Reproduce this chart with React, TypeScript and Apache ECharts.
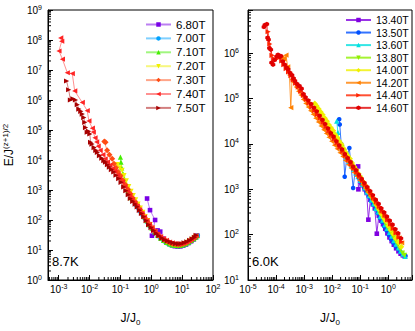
import React, { useEffect, useRef } from 'react';
import * as echarts from 'echarts';

const FONT = '"Liberation Sans", Arial, Helvetica, sans-serif';

// ---------- axis ranges ----------
const leftXRange = [4.5e-4, 100];
const leftYRange = [1, 1e9];
const rightXRange = [1e-5, 7];
const rightYRange = [10, 9e6];

// ---------- left panel (8.7K) ----------
const leftNames = ['6.80T', '7.00T', '7.10T', '7.20T', '7.30T', '7.40T', '7.50T'];
const leftColors = ['#7800e6', '#00a2ff', '#44ee00', '#f0f000', '#ff4c14', '#ff2424', '#a80000'];
const leftSymbols = ['rect', 'circle', 'triangle', 'triangle', 'diamond', 'triangle', 'triangle'];
const leftRotate = [0, 0, 0, 180, 0, 90, -90];

const l680 = [[0.73, 520], [0.91, 213], [1.33, 100], [1.05, 30], [1.6, 45], [1.95, 41], [2.4, 24], [3.0, 19], [3.8, 16], [4.7, 14.3], [5.8, 13.4], [7.2, 13.1], [8.8, 13.2], [10.8, 14], [13.2, 15.2], [16, 17], [19.5, 19.5], [23.5, 22.5], [28, 26.5], [31, 30]];
const l700 = [[0.3, 330], [0.36, 262], [0.43, 196], [0.52, 146], [0.62, 110], [0.75, 82], [0.9, 62], [1.1, 48], [1.35, 37], [1.65, 29], [2.0, 24], [2.5, 20], [3.1, 17], [3.9, 15.3], [4.8, 14.3], [6, 13.8], [7.4, 13.6], [9, 13.8], [11, 14.5], [13.5, 15.7], [16.5, 17.6], [20, 20.2], [24, 23.4], [28, 27], [32, 30.5]];
const l710 = [[0.1, 1.25e4], [0.104, 8.5e3], [0.11, 5.5e3], [0.12, 3.5e3], [0.135, 2.3e3], [0.155, 1.5e3], [0.18, 950], [0.21, 560], [0.25, 520], [0.3, 460], [0.35, 330], [0.42, 245], [0.5, 178], [0.6, 130], [0.72, 95], [0.87, 70], [1.05, 53], [1.3, 40], [1.6, 31], [2.0, 25], [2.5, 21], [3.1, 18], [3.9, 16], [4.8, 14.8], [6, 14.2], [7.4, 14.0], [9, 14.2], [11, 15], [13.5, 16.3], [16.5, 18.3], [20, 20.8], [24, 23.8], [28, 27.5], [31, 30]];
const l720 = [[8.0e-2, 7.0e3], [0.095, 5.5e3], [0.113, 4.5e3], [0.13, 3.0e3], [0.155, 2.0e3], [0.186, 1.3e3], [0.22, 900], [0.26, 650], [0.31, 470], [0.37, 340], [0.44, 250], [0.53, 180], [0.63, 130], [0.76, 95], [0.92, 70], [1.1, 53], [1.35, 40], [1.65, 31], [2.0, 25.5], [2.5, 21.5], [3.1, 18.5], [3.9, 16.5], [4.8, 15.3], [6, 14.7], [7.4, 14.5], [9, 14.7], [11, 15.5], [13.5, 16.8], [16.5, 18.8], [20, 21.3], [24, 24.3], [28, 28]];
const l730 = [[3.3e-2, 3.9e4], [3.0e-2, 4.1e4], [3.7e-2, 2.1e4], [4.4e-2, 1.5e4], [5.4e-2, 1.1e4], [6.2e-2, 7.5e3], [7.2e-2, 5.5e3], [8.5e-2, 4.0e3], [0.1, 3.0e3], [0.12, 2.1e3], [0.145, 1.5e3], [0.175, 1.05e3], [0.21, 750], [0.25, 540], [0.3, 400], [0.36, 300], [0.43, 225], [0.52, 165], [0.62, 120], [0.75, 90], [0.9, 68], [1.1, 52], [1.35, 40], [1.65, 32], [2.0, 27], [2.5, 23], [3.1, 20], [3.9, 17.8], [4.8, 16.3], [6, 15.4], [7.4, 15.1], [9, 15.3], [11, 16.2], [13.5, 17.5], [16.5, 19.5], [20, 22], [24, 25], [28, 29]];
const l740 = [[1.16e-3, 1.17e8], [1.25e-3, 9.1e7], [1.02e-3, 4.3e7], [1.32e-3, 2.3e7], [1.9e-3, 8.1e6], [2.75e-3, 7.6e6], [3.3e-3, 2.0e6], [5.8e-3, 8.3e5], [8.4e-3, 4.4e5], [9.5e-3, 2.0e5], [1.23e-2, 1.15e5], [1.32e-2, 8.5e4], [1.5e-2, 5.5e4], [1.7e-2, 4.0e4], [1.9e-2, 2.9e4], [2.2e-2, 2.1e4], [2.7e-2, 1.5e4], [3.2e-2, 1.1e4], [3.8e-2, 8.5e3], [4.6e-2, 6.8e3], [5.5e-2, 5.2e3], [6.6e-2, 4.2e3], [8e-2, 3.1e3], [9.5e-2, 2.4e3], [0.115, 1.8e3], [0.14, 1.3e3], [0.17, 900], [0.2, 650], [0.24, 480], [0.29, 370], [0.35, 290], [0.42, 220], [0.5, 165], [0.6, 125], [0.72, 95], [0.87, 72], [1.05, 56], [1.3, 43], [1.6, 34], [2.0, 28], [2.5, 24], [3.1, 21], [3.9, 18.5], [4.8, 17.2], [6, 16.2], [7.4, 15.8], [9, 16], [11, 17], [13.5, 18.3], [16.5, 20.3], [20, 22.8], [24, 26], [28, 30]];
const l750 = [[1.8e-3, 4.3e6], [2.1e-3, 2.2e6], [2.4e-3, 1.0e6], [2.9e-3, 1.1e6], [3.5e-3, 1.0e6], [4.0e-3, 7.0e5], [4.5e-3, 5.0e5], [5.2e-3, 4.2e5], [5.8e-3, 3.4e5], [6.5e-3, 2.6e5], [7.0e-3, 1.8e5], [7.4e-3, 1.2e5], [8.4e-3, 8.4e4], [9.3e-3, 9.0e4], [1.02e-2, 7.4e4], [1.08e-2, 3.9e4], [1.2e-2, 3.4e4], [1.4e-2, 2.6e4], [1.6e-2, 2.1e4], [1.8e-2, 1.8e4], [2.1e-2, 1.4e4], [2.5e-2, 1.15e4], [2.9e-2, 9.5e3], [3.3e-2, 8.5e3], [3.8e-2, 7.0e3], [4.4e-2, 5.8e3], [5.1e-2, 4.8e3], [6.1e-2, 4.0e3], [7.2e-2, 3.1e3], [8.8e-2, 2.4e3], [0.105, 1.8e3], [0.128, 1.27e3], [0.15, 950], [0.18, 700], [0.21, 520], [0.25, 420], [0.3, 340], [0.35, 275], [0.41, 210], [0.48, 165], [0.57, 129], [0.68, 95], [0.82, 70], [0.98, 56], [1.19, 45], [1.45, 36], [1.75, 30], [2.2, 25], [2.7, 22], [3.3, 20], [4.1, 18.5], [5.0, 17.3], [6.2, 16.4], [7.6, 16], [9.2, 16.3], [11.5, 17.3], [14.2, 18.8], [17.5, 21], [21, 23.5], [25, 26.5], [28.3, 31]];
const leftData = [l680, l700, l710, l720, l730, l740, l750];

// ---------- right panel (6.0K) ----------
const rightNames = ['13.40T', '13.50T', '13.60T', '13.80T', '14.00T', '14.20T', '14.40T', '14.60T'];
const rightColors = ['#8000e0', '#0050ff', '#00e0e0', '#90f000', '#f0f000', '#ff8000', '#ff2400', '#e00000'];
const rightSymbols = ['rect', 'circle', 'triangle', 'triangle', 'diamond', 'triangle', 'triangle', 'path://M0,-1L0.866,-0.5L0.866,0.5L0,1L-0.866,0.5L-0.866,-0.5Z'];
const rightRotate = [0, 0, 0, 180, 0, 90, -90, 0];

const r1340 = [[8.4e-2, 3.2e3], [8.6e-2, 1.0e3], [0.1, 1.5e3], [0.12, 1.23e3], [0.145, 1.0e3], [0.17, 830], [0.195, 214], [0.23, 590], [0.28, 468], [0.33, 380], [0.39, 105], [0.46, 263], [0.55, 204], [0.65, 170], [0.78, 135], [0.93, 107], [1.1, 87], [1.32, 72], [1.58, 60], [1.9, 50], [2.3, 43], [2.75, 38], [3.3, 35], [3.9, 33]];
const r1350 = [[1.78e-2, 3.5e4], [1.86e-2, 2.7e4], [2.1e-2, 1.0e4], [2.5e-2, 7.6e3], [2.8e-2, 1.9e3], [3.3e-2, 5.0e3], [4.1e-2, 8.1e3], [4.6e-2, 3.8e3], [5.6e-2, 1.07e3], [6.6e-2, 2.6e3], [7.9e-2, 2.1e3], [9.5e-2, 1.7e3], [0.114, 1.32e3], [0.138, 1.07e3], [0.166, 870], [0.2, 692], [0.24, 562], [0.29, 457], [0.35, 363], [0.42, 295], [0.5, 234], [0.6, 190], [0.72, 151], [0.87, 123], [1.05, 98], [1.26, 79], [1.51, 66], [1.82, 56], [2.19, 50], [2.63, 43], [3.16, 38], [3.8, 35], [4.1, 34]];
const r1360 = [[1.45e-2, 3.2e4], [1.6e-2, 1.8e4], [1.9e-2, 8.7e3], [2.3e-2, 7.4e3], [2.75e-2, 6.0e3], [3.3e-2, 5.0e3], [4.0e-2, 4.1e3], [4.8e-2, 3.4e3], [5.75e-2, 2.8e3], [6.9e-2, 2.3e3], [8.3e-2, 1.9e3], [0.1, 1.58e3], [0.12, 1.29e3], [0.145, 1.07e3], [0.174, 870], [0.21, 724], [0.25, 575], [0.3, 479], [0.36, 380], [0.44, 316], [0.52, 251], [0.63, 209], [0.76, 166], [0.91, 138], [1.1, 112], [1.32, 93], [1.58, 74], [1.9, 62], [2.3, 51], [2.75, 43], [3.3, 37], [4.0, 33]];
const r1380 = [[8.9e-3, 2.1e4], [1.07e-2, 1.78e4], [1.29e-2, 1.45e4], [1.55e-2, 1.2e4], [1.86e-2, 1.0e4], [2.24e-2, 8.3e3], [2.7e-2, 6.8e3], [3.2e-2, 5.6e3], [3.9e-2, 4.5e3], [4.7e-2, 3.6e3], [5.6e-2, 2.95e3], [6.8e-2, 2.45e3], [8.1e-2, 2.04e3], [9.8e-2, 1.78e3], [0.117, 1.38e3], [0.141, 1.15e3], [0.17, 955], [0.204, 794], [0.245, 646], [0.295, 537], [0.355, 437], [0.43, 355], [0.51, 288], [0.62, 234], [0.74, 191], [0.89, 155], [1.07, 129], [1.29, 107], [1.55, 87], [1.86, 71], [2.24, 59], [2.7, 47], [3.2, 39], [3.8, 35]];
const r1400 = [[2.4e-3, 7.8e4], [2.8e-3, 6.9e4], [3.3e-3, 5.9e4], [3.9e-3, 5.1e4], [4.6e-3, 4.4e4], [5.5e-3, 3.7e4], [6.5e-3, 3.16e4], [7.7e-3, 2.63e4], [9.1e-3, 2.24e4], [1.08e-2, 1.95e4], [1.28e-2, 1.62e4], [1.52e-2, 1.38e4], [1.8e-2, 1.15e4], [2.15e-2, 9.8e3], [2.55e-2, 7.9e3], [3.0e-2, 6.6e3], [3.6e-2, 5.5e3], [4.3e-2, 4.7e3], [5.1e-2, 3.8e3], [6.1e-2, 3.16e3], [7.3e-2, 2.7e3], [8.7e-2, 2.19e3], [0.104, 1.82e3], [0.125, 1.48e3], [0.15, 1.23e3], [0.18, 1.02e3], [0.22, 830], [0.26, 690], [0.32, 560], [0.38, 457], [0.46, 372], [0.56, 288], [0.68, 240], [0.82, 200], [1.0, 158], [1.22, 129], [1.5, 105], [1.85, 83], [2.3, 68], [2.9, 54]];
const r1420 = [[1.6e-4, 8.0e5], [1.9e-4, 7.5e5], [2.25e-4, 9.1e5], [2.6e-4, 5.0e5], [3.0e-4, 3.3e5], [3.35e-4, 6.3e4], [3.7e-4, 2.6e5], [4.3e-4, 2.3e5], [5.2e-4, 1.8e5], [6.3e-4, 1.45e5], [7.7e-4, 1.2e5], [9.4e-4, 9.6e4], [1.15e-3, 7.8e4], [1.4e-3, 6.5e4], [1.7e-3, 5.4e4], [2.1e-3, 4.5e4], [2.6e-3, 3.7e4], [3.2e-3, 3.05e4], [4.0e-3, 2.5e4], [5.0e-3, 2.05e4], [6.2e-3, 1.7e4], [7.7e-3, 1.4e4], [9.6e-3, 1.15e4], [1.2e-2, 9.4e3], [1.5e-2, 7.8e3], [1.9e-2, 6.4e3], [2.4e-2, 5.3e3], [3.0e-2, 4.3e3], [3.8e-2, 3.5e3], [4.8e-2, 2.9e3], [6.0e-2, 2.35e3], [7.6e-2, 1.95e3], [9.5e-2, 1.58e3], [0.12, 1.26e3], [0.15, 1.05e3], [0.19, 850], [0.24, 690], [0.3, 575], [0.38, 457], [0.48, 372], [0.6, 302], [0.76, 240], [0.95, 195], [1.2, 158], [1.5, 129], [1.9, 105], [2.4, 85], [3.0, 66]];
const r1440 = [[5.2e-5, 3.0e6], [6.0e-5, 1.6e6], [7.2e-5, 9.0e5], [8.5e-5, 7.5e5], [1.1e-4, 7.8e5], [1.3e-4, 8.0e5], [1.6e-4, 6.8e5], [1.9e-4, 5.6e5], [2.3e-4, 4.6e5], [2.8e-4, 3.9e5], [3.4e-4, 3.2e5], [4.1e-4, 2.6e5], [5.0e-4, 2.2e5], [6.2e-4, 1.8e5], [7.6e-4, 1.45e5], [9.5e-4, 1.18e5], [1.2e-3, 9.6e4], [1.5e-3, 8.0e4], [1.9e-3, 6.6e4], [2.4e-3, 5.5e4], [3.0e-3, 4.5e4], [3.8e-3, 3.7e4], [4.8e-3, 3.0e4], [6.0e-3, 2.4e4], [7.6e-3, 1.95e4], [9.5e-3, 1.6e4], [1.2e-2, 1.3e4], [1.5e-2, 1.05e4], [1.9e-2, 8.5e3], [2.4e-2, 6.9e3], [3.0e-2, 5.6e3], [3.8e-2, 4.5e3], [4.8e-2, 3.6e3], [6.0e-2, 2.9e3], [7.6e-2, 2.35e3], [9.5e-2, 1.9e3], [0.12, 1.55e3], [0.15, 1.25e3], [0.19, 1.0e3], [0.24, 810], [0.3, 650], [0.38, 525], [0.48, 420], [0.6, 335], [0.76, 270], [0.95, 215], [1.2, 172], [1.5, 138], [1.9, 110], [2.4, 88], [3.0, 70]];
const r1460 = [[3.7e-5, 3.8e6], [4.0e-5, 4.2e6], [4.7e-5, 4.4e6], [5.0e-5, 2.2e6], [5.4e-5, 2.0e6], [5.8e-5, 1.3e6], [6.5e-5, 1.2e6], [6.9e-5, 6.2e5], [7.8e-5, 5.6e5], [8.9e-5, 7.1e5], [1.05e-4, 8.5e5], [1.17e-4, 9.3e5], [1.38e-4, 8.3e5], [1.48e-4, 8.7e5], [1.74e-4, 6.6e5], [2.04e-4, 5.6e5], [2.4e-4, 4.8e5], [2.7e-4, 4.4e5], [3.16e-4, 3.7e5], [3.7e-4, 3.3e5], [4.2e-4, 2.8e5], [4.7e-4, 2.45e5], [5.6e-4, 2.1e5], [6.8e-4, 1.9e5], [8.1e-4, 1.66e5], [9.5e-4, 1.26e5], [1.12e-3, 1.07e5], [1.41e-3, 9.1e4], [1.78e-3, 7.6e4], [2.24e-3, 6.3e4], [2.8e-3, 5.25e4], [3.55e-3, 4.2e4], [4.5e-3, 3.4e4], [5.6e-3, 2.75e4], [7.1e-3, 2.2e4], [8.9e-3, 1.74e4], [1.12e-2, 1.45e4], [1.41e-2, 1.15e4], [1.78e-2, 9.3e3], [2.24e-2, 7.6e3], [2.8e-2, 6.0e3], [3.55e-2, 4.9e3], [4.5e-2, 4.0e3], [5.6e-2, 3.16e3], [7.1e-2, 2.63e3], [8.9e-2, 2.09e3], [0.112, 1.7e3], [0.141, 1.38e3], [0.178, 1.12e3], [0.224, 912], [0.28, 741], [0.355, 589], [0.45, 479], [0.56, 380], [0.71, 309], [0.89, 251], [1.12, 204], [1.41, 166], [1.78, 132], [2.24, 107], [2.82, 83]];
const rightData = [r1340, r1350, r1360, r1380, r1400, r1420, r1440, r1460];

// ---------- helpers ----------
const richTick = {
  b: { fontSize: 10, fontFamily: FONT, color: '#000', lineHeight: 13 },
  s: { fontSize: 7, fontFamily: FONT, color: '#000', lineHeight: 8, verticalAlign: 'top' },
};
const tickFmt = (v: number) => {
  const l = Math.log10(v);
  const e = Math.round(l);
  if (Math.abs(l - e) > 1e-3) return '';
  return `{b|10}{s|${e}}`;
};

function minorValues(range: number[]) {
  const out: number[] = [];
  const e0 = Math.floor(Math.log10(range[0]));
  const e1 = Math.ceil(Math.log10(range[1]));
  for (let e = e0; e <= e1; e++) {
    for (let m = 2; m <= 9; m++) {
      const v = m * Math.pow(10, e);
      if (v > range[0] * 1.0001 && v < range[1] * 0.9999) out.push(v);
    }
  }
  return out;
}

function logAxis(gi: number, range: number[], split: number, margin: number, extra: any = {}) {
  return {
    type: 'log', gridIndex: gi, logBase: 10, min: range[0], max: range[1], splitNumber: split,
    axisLine: { show: true, onZero: false, lineStyle: { color: '#000', width: 1 } },
    axisTick: { show: true, inside: true, length: 5, lineStyle: { color: '#000', width: 1 } },
    axisLabel: { formatter: tickFmt, rich: richTick, margin, color: '#000', fontFamily: FONT, fontSize: 10 },
    splitLine: { show: false },
    minorTick: { show: false },
    ...extra,
  };
}

const xName = {
  name: '{a|J/J}{b|0}', nameLocation: 'middle', nameGap: 30,
  nameTextStyle: {
    rich: {
      a: { fontSize: 12, fontFamily: FONT, color: '#000', lineHeight: 16 },
      b: { fontSize: 8, fontFamily: FONT, color: '#000', lineHeight: 10, verticalAlign: 'bottom' },
    },
  },
};

function minorSeries(name: string, gi: number, vals: number[], dir: 'x' | 'y', fixed: number) {
  return {
    type: 'custom', name, xAxisIndex: gi, yAxisIndex: gi, silent: true, z: 5,
    data: vals.map((v) => (dir === 'x' ? [v, fixed] : [fixed, v])),
    encode: { x: 0, y: 1 },
    renderItem: (params: any, api: any) => {
      const p = api.coord([api.value(0), api.value(1)]);
      const shape = dir === 'x'
        ? { x1: p[0], y1: p[1], x2: p[0], y2: p[1] - 3 }
        : { x1: p[0], y1: p[1], x2: p[0] + 3, y2: p[1] };
      return { type: 'line', shape, style: { stroke: '#000', lineWidth: 1 } };
    },
  };
}

function lineSeries(name: string, data: number[][], color: string, symbol: string, rot: number, gi: number, opacity: number) {
  const size = symbol === 'diamond' ? 6 : symbol === 'triangle' ? 5.2 : 4.6;
  return {
    type: 'line', name, data, xAxisIndex: gi, yAxisIndex: gi,
    symbol, symbolRotate: rot, symbolSize: size, showSymbol: true,
    itemStyle: { color },
    lineStyle: { color, width: 1, opacity },
    emphasis: { disabled: true }, silent: true, animation: false,
  };
}

export default function App() {
  const ref = useRef<HTMLDivElement>(null);
  useEffect(() => {
    if (!ref.current) return;
    const chart = echarts.init(ref.current, null, { renderer: 'svg' });
    const series: any[] = [];
    leftData.forEach((d, i) => series.push(lineSeries(leftNames[i], d, leftColors[i], leftSymbols[i], leftRotate[i], 0, 0.5)));
    rightData.forEach((d, i) => series.push(lineSeries(rightNames[i], d, rightColors[i], rightSymbols[i], rightRotate[i], 1, 0.8)));
    series.push(minorSeries('mxl', 0, minorValues(leftXRange), 'x', leftYRange[0]));
    series.push(minorSeries('myl', 0, minorValues(leftYRange), 'y', leftXRange[0]));
    series.push(minorSeries('mxr', 1, minorValues(rightXRange), 'x', rightYRange[0]));
    series.push(minorSeries('myr', 1, minorValues(rightYRange), 'y', rightXRange[0]));

    const legendText = (fs: number) => ({ fontSize: fs, fontFamily: FONT, color: '#000' });
    chart.setOption({
      animation: false,
      backgroundColor: '#fff',
      grid: [
        { left: 48, top: 10, width: 165, height: 272, show: true, borderColor: '#000', borderWidth: 1, backgroundColor: 'transparent' },
        { left: 248, top: 10, width: 165, height: 272, show: true, borderColor: '#000', borderWidth: 1, backgroundColor: 'transparent' },
      ],
      xAxis: [
        logAxis(0, leftXRange, 5, 3, xName),
        logAxis(1, rightXRange, 6, 3, xName),
      ],
      yAxis: [
        logAxis(0, leftYRange, 9, 6, {
          name: '{a|E/J}{b|(z+1)/2}', nameLocation: 'middle', nameGap: 31, nameRotate: 90,
          nameTextStyle: {
            rich: {
              a: { fontSize: 12, fontFamily: FONT, color: '#000', lineHeight: 16 },
              b: { fontSize: 8, fontFamily: FONT, color: '#000', lineHeight: 9, verticalAlign: 'top' },
            },
          },
        }),
        logAxis(1, rightYRange, 6, 9),
      ],
      legend: [
        { data: rightNames, orient: 'vertical', left: 345, top: 14.5, padding: 0, itemWidth: 25, itemHeight: 5.6, itemGap: 1.55, selectedMode: false, textStyle: legendText(10.5) },
        { data: leftNames, orient: 'vertical', left: 145, top: 18.5, padding: 0, itemWidth: 25, itemHeight: 5.6, itemGap: 1.9, selectedMode: false, textStyle: legendText(11.5) },
      ],
      graphic: [
        { type: 'text', left: 52, top: 255, style: { text: '8.7K', fontSize: 13, fontFamily: FONT, fill: '#000' } },
        { type: 'text', left: 252, top: 255, style: { text: '6.0K', fontSize: 13, fontFamily: FONT, fill: '#000' } },
      ],
      series,
    });
    return () => chart.dispose();
  }, []);
  return <div ref={ref} style={{ position: 'absolute', left: 0, top: 0, width: 415, height: 331, background: '#fff' }} />;
}
